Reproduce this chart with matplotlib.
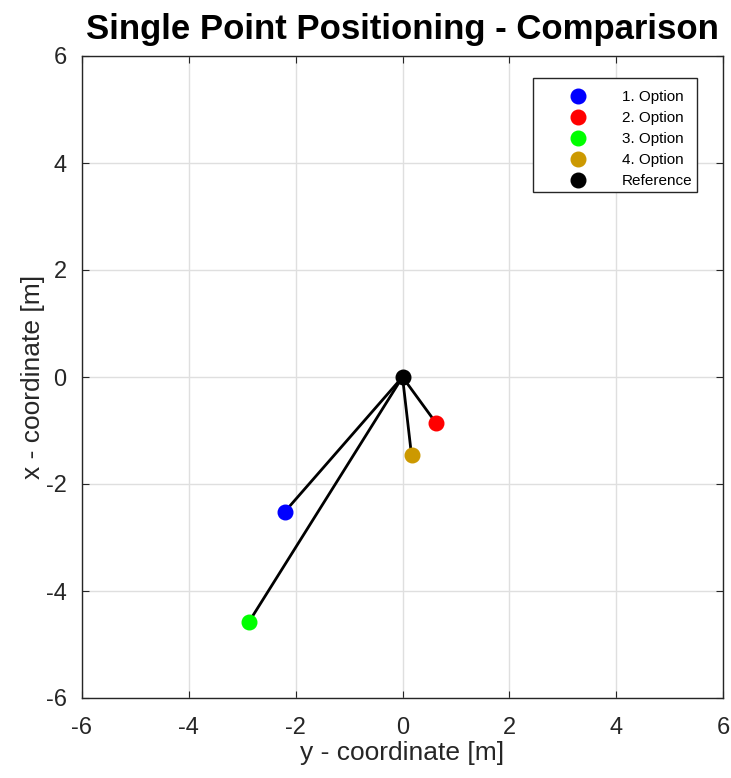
import matplotlib
matplotlib.use("Agg")
import matplotlib.pyplot as plt

plt.rcParams['font.family'] = ['Liberation Sans', 'DejaVu Sans']
plt.rcParams['axes.unicode_minus'] = False

labels = ['1. Option', '2. Option', '3. Option', '4. Option']
colors = ['#0000ff', '#ff0000', '#00ff00', '#cc9900']
y_coord = [-2.207, 0.632, -2.875, 0.169]
x_coord = [-2.523, -0.866, -4.579, -1.464]
ref_y = 0.0
ref_x = 0.0

fig = plt.figure(figsize=(7.31, 7.78), dpi=100)
ax = fig.add_axes([82/731, 1 - 698/778, 641/731, 642/778])

for yy, xx in zip(y_coord, x_coord):
    ax.plot([ref_y, yy], [ref_x, xx], color='black', lw=2, zorder=2)

for yy, xx, c, lab in zip(y_coord, x_coord, colors, labels):
    ax.plot(yy, xx, 'o', color=c, ms=10.5, label=lab, zorder=3)
ax.plot(ref_y, ref_x, 'o', color='black', ms=10.5, label='Reference', zorder=4)

ax.set_xlim(-6, 6)
ax.set_ylim(-6, 6)
ax.set_xticks(range(-6, 7, 2))
ax.set_yticks(range(-6, 7, 2))
ax.grid(True, color='#dfdfdf', lw=1)
ax.set_axisbelow(True)
ax.tick_params(direction='in', top=True, right=True, labelsize=17, length=5,
               colors='#262626')
ax.tick_params(axis='x', pad=14)
ax.tick_params(axis='y', pad=11)
for s in ax.spines.values():
    s.set_color('#262626')
    s.set_linewidth(1)

ax.set_xlabel('y - coordinate [m]', fontsize=19, color='#262626')
ax.set_ylabel('x - coordinate [m]', fontsize=19, color='#262626')
ax.xaxis.set_label_coords(0.5, -0.067)
ax.yaxis.set_label_coords(-0.058, 0.5)
ax.set_title('Single Point Positioning - Comparison', fontsize=25,
             fontweight='bold', pad=12)

leg = ax.legend(loc='upper right', bbox_to_anchor=(0.959, 0.966), fontsize=11,
                fancybox=False, edgecolor='#262626', framealpha=1,
                borderaxespad=0, borderpad=0.27, labelspacing=0.46,
                handlelength=5.35, handletextpad=0.2,
                title=' ', title_fontsize=0.5)
leg.get_frame().set_linewidth(1)

fig.savefig('out.png', dpi=100)
